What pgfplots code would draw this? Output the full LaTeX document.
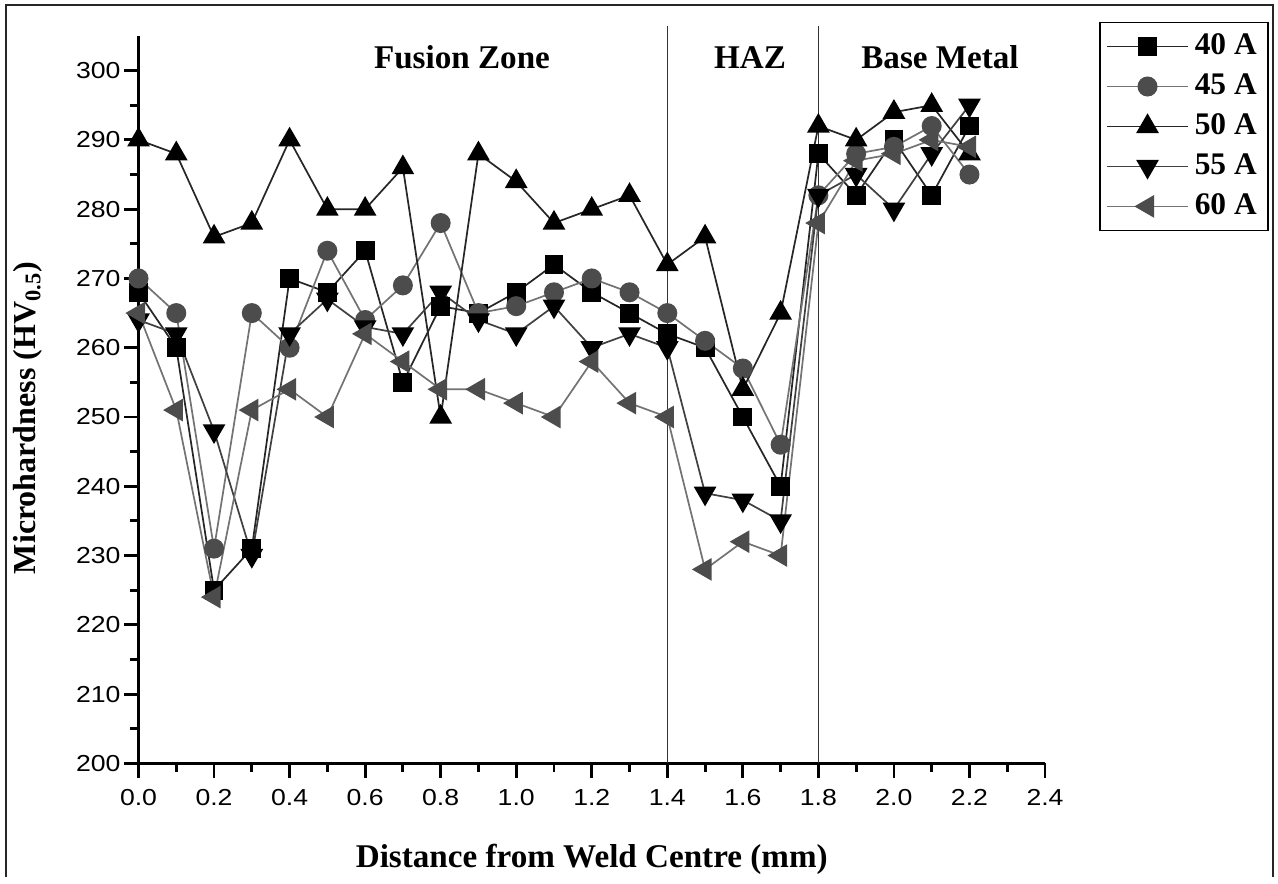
\documentclass[border=0pt]{standalone}
\usepackage{fontspec}
\setmainfont{Liberation Serif}
\newfontfamily\tickfont[FakeStretch=1.15]{Liberation Sans}
\usepackage{pgfplots}
\usepackage{pgfplotstable}
\pgfplotsset{compat=1.18}
\pgfplotstableread{
x    a40 a45 a50 a55 a60
0.0  268 270 290 264 265
0.1  260 265 288 262 251
0.2  225 231 276 248 224
0.3  231 265 278 230 251
0.4  270 260 290 262 254
0.5  268 274 280 267 250
0.6  274 264 280 263 262
0.7  255 269 286 262 258
0.8  266 278 250 268 254
0.9  265 265 288 264 254
1.0  268 266 284 262 252
1.1  272 268 278 266 250
1.2  268 270 280 260 258
1.3  265 268 282 262 252
1.4  262 265 272 260 250
1.5  260 261 276 239 228
1.6  250 257 254 238 232
1.7  240 246 265 235 230
1.8  288 282 292 282 278
1.9  282 288 290 285 287
2.0  290 289 294 280 288
2.1  282 292 295 288 290
2.2  292 285 288 295 289
}\datatable
\begin{document}
\begin{tikzpicture}
\begin{axis}[
  scale only axis, width=317.3pt, height=254.6pt,
  xmin=0, xmax=2.4, ymin=200, ymax=305,
  axis x line*=bottom, axis y line*=left,
  axis line style={line width=1pt, -},
  xtick={0,0.2,0.4,0.6,0.8,1.0,1.2,1.4,1.6,1.8,2.0,2.2,2.4},
  ytick={200,210,220,230,240,250,260,270,280,290,300},
  minor x tick num=1, minor y tick num=1,
  tick align=outside, major tick length=5pt, minor tick length=3pt,
  every tick/.style={line width=1pt, black},
  /pgf/number format/assume math mode=true,
  tick label style={font=\tickfont\fontsize{8.1}{9}\selectfont},
  xticklabel style={yshift=-0.5pt, /pgf/number format/.cd, fixed, fixed zerofill, precision=1},
  yticklabel style={xshift=2.2pt, /pgf/number format/.cd, fixed, precision=0},
  xlabel={Distance from Weld Centre (mm)},
  xlabel style={at={(axis description cs:0.5,-0.1426)}, anchor=base, font=\bfseries\fontsize{11.6}{13}\selectfont},
  ylabel={Microhardness (HV\textsubscript{0.5})},
  ylabel style={at={(axis description cs:-0.1219,0.475)}, anchor=center, rotate=0, font=\bfseries\fontsize{11.2}{13}\selectfont},
  clip=false,
  legend cell align=left,
  legend style={at={(1.2471,1.0197)}, anchor=north east, draw=black, line width=0.6pt,
    font=\bfseries\fontsize{11}{12}\selectfont, row sep=1.2pt, inner xsep=2pt, inner ysep=2pt},
  legend image code/.code={\draw[#1, mark repeat=2, mark phase=2] plot coordinates {(0cm,0cm) (0.5cm,0cm) (1.0cm,0cm)};},
]
\path (rel axis cs:-0.15279,-0.15633) rectangle (rel axis cs:1.25703,1.04950);
\draw[line width=0.5pt, black!85] (rel axis cs:-0.1462,-0.15633) -- (rel axis cs:-0.1462,1.0426) -- (rel axis cs:1.2515,1.0426) -- (rel axis cs:1.2515,-0.15633);
\draw[line width=0.5pt, black!80] (axis cs:1.4,200) -- (axis cs:1.4,306.5);
\draw[line width=0.5pt, black!80] (axis cs:1.8,200) -- (axis cs:1.8,306.5);
\node[anchor=base, font=\bfseries\fontsize{11.6}{13}\selectfont] at (axis cs:0.8565,300.29) {Fusion Zone};
\node[anchor=base, font=\bfseries\fontsize{11.6}{13}\selectfont] at (axis cs:1.619,300.29) {HAZ};
\node[anchor=base, font=\bfseries\fontsize{11.6}{13}\selectfont] at (axis cs:2.122,300.29) {Base Metal};
\addplot[line width=0.6pt, black!85, mark=square*, mark size=3pt, mark options={solid, fill=black, draw=black}] table[x=x, y=a40] {\datatable};
\addlegendentry{40 A}
\addplot[line width=0.6pt, black!55, mark=*, mark size=3.2pt, mark options={solid, fill=black!70, draw=black!70}] table[x=x, y=a45] {\datatable};
\addlegendentry{45 A}
\addplot[line width=0.6pt, black!85, mark=triangle*, mark size=4pt, mark options={solid, fill=black, draw=black}] table[x=x, y=a50] {\datatable};
\addlegendentry{50 A}
\addplot[line width=0.6pt, black!75, mark=triangle*, mark size=4pt, mark options={solid, rotate=180, fill=black, draw=black}] table[x=x, y=a55] {\datatable};
\addlegendentry{55 A}
\addplot[line width=0.6pt, black!55, mark=triangle*, mark size=4pt, mark options={solid, rotate=90, fill=black!70, draw=black!70}] table[x=x, y=a60] {\datatable};
\addlegendentry{60 A}
\end{axis}
\end{tikzpicture}
\end{document}
